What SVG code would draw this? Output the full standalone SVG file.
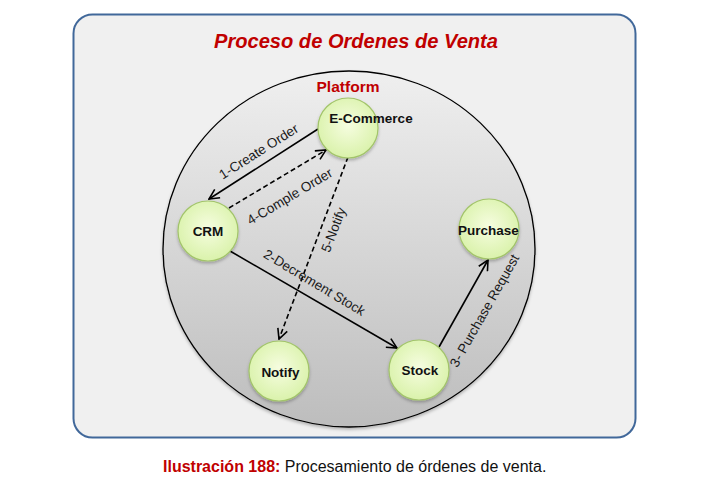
<svg xmlns="http://www.w3.org/2000/svg" width="723" height="478" viewBox="0 0 723 478">
  <defs>
    <linearGradient id="platformFill" x1="0" y1="0" x2="0" y2="1">
      <stop offset="0" stop-color="#efefef"/>
      <stop offset="1" stop-color="#bdbdbd"/>
    </linearGradient>
    <radialGradient id="nodeFill" cx="0.5" cy="0.45" r="0.6">
      <stop offset="0" stop-color="#f6fde0"/>
      <stop offset="1" stop-color="#d7f1a6"/>
    </radialGradient>
    <filter id="shadow" x="-20%" y="-20%" width="140%" height="150%">
      <feDropShadow dx="0" dy="2" stdDeviation="1.5" flood-color="#000" flood-opacity="0.25"/>
    </filter>
    <marker id="arrow" viewBox="0 0 12 12" refX="11" refY="6" markerWidth="12" markerHeight="12" markerUnits="userSpaceOnUse" orient="auto">
      <path d="M1,1 L11,6 L1,11" fill="none" stroke="#000" stroke-width="1.6"/>
    </marker>
    <style>
      .node circle { fill: url(#nodeFill); stroke: #a2c46a; stroke-width: 1.2; filter: url(#shadow); }
      .node text { font-family: "Liberation Sans", Arial, sans-serif; font-weight: bold; font-size: 13.5px; fill: #111; text-anchor: middle; }
      .edge { fill: none; stroke: #000; stroke-width: 1.6; marker-end: url(#arrow); }
      .dashed { stroke-dasharray: 5 3; }
      .elabel { font-family: "Liberation Sans", Arial, sans-serif; font-size: 13.5px; fill: #1a1a1a; text-anchor: middle; }
    </style>
  </defs>

  <!-- frame -->
  <rect x="73.5" y="14.5" width="562" height="423" rx="19" ry="19" fill="#f0f0f0" stroke="#41689a" stroke-width="2"/>
  <text x="356" y="48" font-family="Liberation Sans, Arial, sans-serif" font-size="21" font-weight="bold" font-style="italic" fill="#c00000" text-anchor="middle" textLength="284" lengthAdjust="spacingAndGlyphs">Proceso de Ordenes de Venta</text>

  <!-- platform boundary -->
  <g id="platform">
    <ellipse cx="349" cy="249" rx="186" ry="178" fill="url(#platformFill)" stroke="#000" stroke-width="1.3" filter="url(#shadow)"/>
    <text x="348" y="92" font-family="Liberation Sans, Arial, sans-serif" font-size="15" font-weight="bold" fill="#c00000" text-anchor="middle" textLength="63" lengthAdjust="spacingAndGlyphs">Platform</text>
  </g>

  <!-- connectors -->
  <g id="connectors">
    <line class="edge" x1="318" y1="129" x2="209" y2="199"/>
    <line class="edge dashed" x1="229" y1="208" x2="326" y2="150"/>
    <line class="edge dashed" x1="348" y1="157" x2="279" y2="339"/>
    <line class="edge" x1="230" y1="251" x2="397" y2="348"/>
    <line class="edge" x1="439" y1="347" x2="488" y2="260"/>
    <text class="elabel" transform="translate(259,152) rotate(-32.5)" y="4">1-Create Order</text>
    <text class="elabel" transform="translate(290,197) rotate(-31)" y="4">4-Comple Order</text>
    <text class="elabel" transform="translate(334,230) rotate(-69)" y="4">5-Notify</text>
    <text class="elabel" transform="translate(314,283) rotate(31)" y="4">2-Decrement Stock</text>
    <text class="elabel" transform="translate(485,311) rotate(-60.5)" y="4">3- Purchase Request</text>
  </g>

  <!-- nodes -->
  <g id="ecommerce" class="node">
    <circle cx="348" cy="128" r="30"/>
    <text x="371" y="123">E-Commerce</text>
  </g>
  <g id="crm" class="node">
    <circle cx="208" cy="231" r="30"/>
    <text x="208" y="236">CRM</text>
  </g>
  <g id="purchase" class="node">
    <circle cx="489" cy="229" r="30"/>
    <text x="488.5" y="235">Purchase</text>
  </g>
  <g id="notify" class="node">
    <circle cx="279" cy="371" r="30"/>
    <text x="280.5" y="377">Notify</text>
  </g>
  <g id="stock" class="node">
    <circle cx="419" cy="370" r="30"/>
    <text x="420" y="375">Stock</text>
  </g>

  <!-- caption -->
  <text x="163" y="472" font-family="Liberation Sans, Arial, sans-serif" font-size="16"><tspan font-weight="bold" fill="#c00000">Ilustración 188:</tspan><tspan fill="#111"> Procesamiento de órdenes de venta.</tspan></text>
</svg>
